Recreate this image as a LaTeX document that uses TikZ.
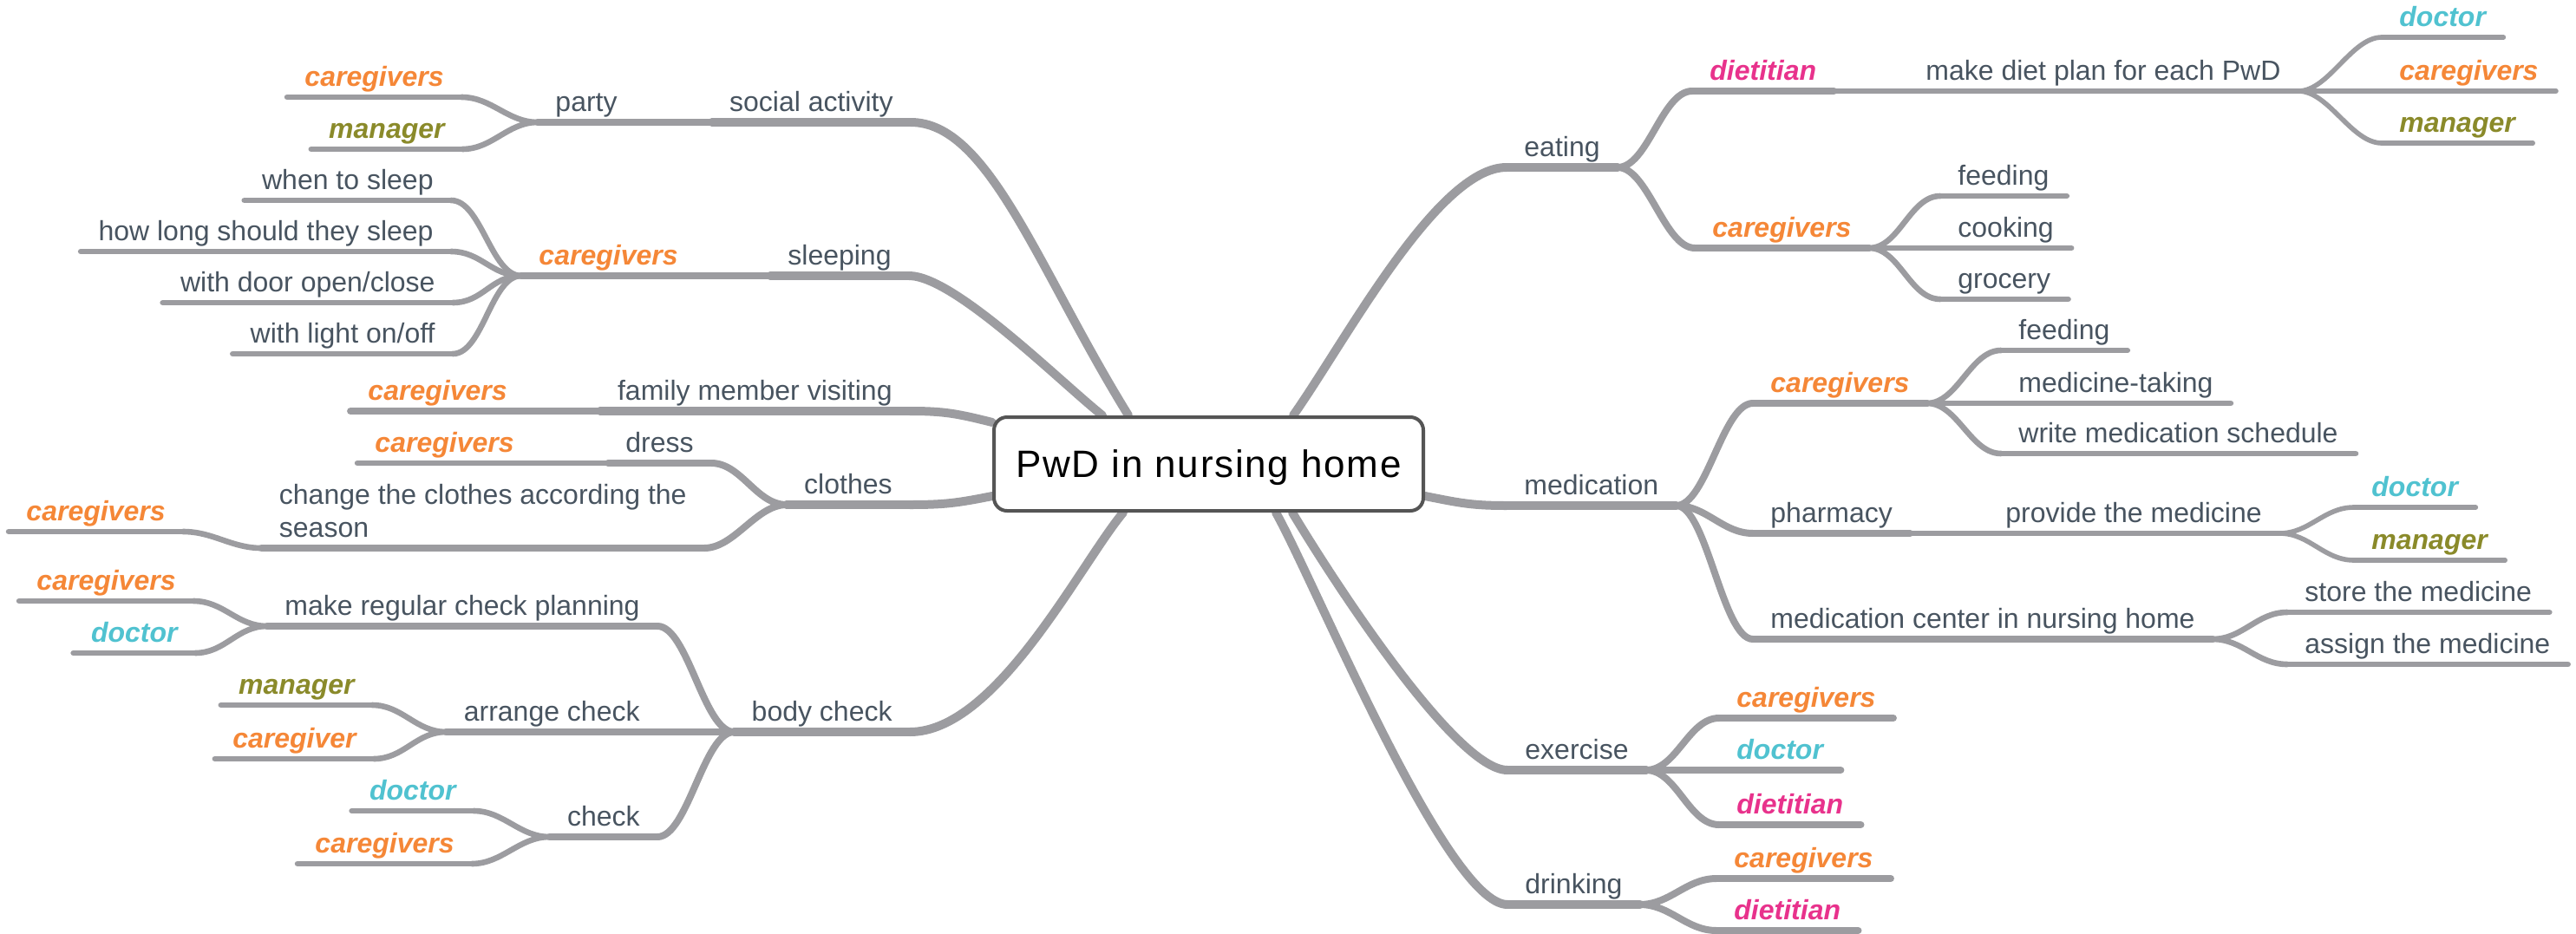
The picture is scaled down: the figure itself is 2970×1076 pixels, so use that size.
\documentclass[tikz,border=0pt]{standalone}
\usepackage{fontspec}
\setmainfont{Liberation Sans}
\newfontfamily\rootfont[LetterSpace=4]{Liberation Sans}
\usetikzlibrary{calc,backgrounds}
\definecolor{ln}{RGB}{156,156,160}
\definecolor{tx}{RGB}{72,84,96}
\definecolor{cg}{RGB}{245,135,55}
\definecolor{mg}{RGB}{138,138,42}
\definecolor{dc}{RGB}{80,194,208}
\definecolor{dt}{RGB}{232,50,140}
\definecolor{bd}{RGB}{85,85,85}
\begin{document}
\begin{tikzpicture}[x=0.5pt,y=-0.5pt,
  every node/.style={font=\fontsize{16pt}{19pt}\selectfont, text=tx, inner xsep=10pt, inner ysep=2pt, text height=12pt, text depth=4pt},
  R/.style={anchor=south west},
  L/.style={anchor=south east},
  role/.style={font=\fontsize{16pt}{19pt}\selectfont\bfseries\itshape},
  cgv/.style={role,text=cg}, mgr/.style={role,text=mg},
  doc/.style={role,text=dc}, die/.style={role,text=dt},
  w1/.style={draw=ln,line width=5pt,line cap=round},
  w2/.style={draw=ln,line width=4pt,line cap=round},
  w3/.style={draw=ln,line width=3.3pt,line cap=round},
  w4/.style={draw=ln,line width=2.8pt,line cap=round},
  sR/.style={to path={.. controls +(35,0) and +(-35,0) .. (\tikztotarget)}},
  sL/.style={to path={.. controls +(-35,0) and +(35,0) .. (\tikztotarget)}},
  rootbox/.style={draw=bd, line width=2pt, rounded corners=7.5pt, fill=white,
    minimum width=247.5pt, minimum height=54pt, inner sep=0pt, text=black,
    font=\rootfont\fontsize{22pt}{26pt}\selectfont, text height=15.4pt, text depth=0pt}
]
\useasboundingbox (0,0) rectangle (2970,1076);

% ---------- root ----------
\node[rootbox] (root) at (1393.5,535) {PwD in nursing home};
\coordinate (rSA) at ($(root.north west)+(157,0)$);
\coordinate (rSL) at ($(root.north west)+(127,0)$);
\coordinate (rFM) at ($(root.north west)+(0,8)$);
\coordinate (rCL) at ($(root.north west)+(0,93)$);
\coordinate (rBC) at ($(root.south west)+(151,0)$);
\coordinate (rDR) at ($(root.south west)+(327,0)$);
\coordinate (rEX) at ($(root.south west)+(346,0)$);
\coordinate (rEA) at ($(root.north west)+(347,0)$);
\coordinate (rME) at ($(root.north east)+(0,93)$);

% ---------- right side ----------
\node[R] (eat) at (1737,193) {eating};
\node[R,die] (eatdt) at (1951,105) {dietitian};
\node[R] (plan) at (2200,105) {make diet plan for each PwD};
\node[R,doc] (plandc) at (2746,43) {doctor};
\node[R,cgv] (plancg) at (2746,105) {caregivers};
\node[R,mgr] (planmg) at (2746,165) {manager};
\node[R,cgv] (eatcg) at (1954,286) {caregivers};
\node[R] (feed1) at (2237,226) {feeding};
\node[R] (cook) at (2237,286) {cooking};
\node[R] (groc) at (2237,345) {grocery};

\node[R] (med) at (1737,583) {medication};
\node[R,cgv] (medcg) at (2021,465) {caregivers};
\node[R] (feed2) at (2307,404) {feeding};
\node[R] (mtake) at (2307,465) {medicine-taking};
\node[R] (msched) at (2307,523) {write medication schedule};
\node[R] (pharm) at (2021,615) {pharmacy};
\node[R] (prov) at (2292,615) {provide the medicine};
\node[R,doc] (provdc) at (2714,585) {doctor};
\node[R,mgr] (provmg) at (2714,646) {manager};
\node[R] (mcent) at (2021,737) {medication center in nursing home};
\node[R] (store) at (2637,706) {store the medicine};
\node[R] (assign) at (2637,766) {assign the medicine};

\node[R] (exer) at (1738,888) {exercise};
\node[R,cgv] (excg) at (1982,828) {caregivers};
\node[R,doc] (exdc) at (1982,888) {doctor};
\node[R,die] (exdt) at (1982,951) {dietitian};
\node[R] (drink) at (1738,1043) {drinking};
\node[R,cgv] (drcg) at (1979,1013) {caregivers};
\node[R,die] (drdt) at (1979,1073) {dietitian};

% ---------- left side ----------
\node[L] (soc) at (1050,141) {social activity};
\node[L] (party) at (732,141) {party};
\node[L,cgv] (partycg) at (532,112) {caregivers};
\node[L,mgr] (partymg) at (533,172) {manager};
\node[L] (sleep) at (1048,318) {sleeping};
\node[L,cgv] (sleepcg) at (802,318) {caregivers};
\node[L] (when) at (520,231) {when to sleep};
\node[L] (howlong) at (520,290) {how long should they sleep};
\node[L] (door) at (522,349) {with door open/close};
\node[L] (light) at (522,408) {with light on/off};
\node[L] (fam) at (1049,474) {family member visiting};
\node[L,cgv] (famcg) at (605,474) {caregivers};
\node[L] (cloth) at (1049,582) {clothes};
\node[L] (dress) at (820,534) {dress};
\node[L,cgv] (dresscg) at (613,534) {caregivers};
\node[L] (season) at (812,632) {\begin{tabular}[b]{@{}l@{}}change the clothes according the\\season\end{tabular}};
\node[L,cgv] (seasoncg) at (211,613) {caregivers};
\node[L] (body) at (1049,844) {body check};
\node[L] (plan2) at (758,722) {make regular check planning};
\node[L,cgv] (plan2cg) at (223,693) {caregivers};
\node[L,doc] (plan2dc) at (225,753) {doctor};
\node[L] (arr) at (758,844) {arrange check};
\node[L,mgr] (arrmg) at (429,813) {manager};
\node[L,cgv] (arrcg) at (431,875) {caregiver};
\node[L] (chk) at (758,965) {check};
\node[L,doc] (chkdc) at (546,935) {doctor};
\node[L,cgv] (chkcg) at (544,996) {caregivers};

\begin{pgfonlayer}{background}
\fill[white] (0,0) rectangle (2970,1076);
% underlines
\foreach \n in {soc,sleep,fam,cloth,body,eat,med,exer,drink}
  \draw[w1] (\n.south west) -- (\n.south east);
\foreach \n in {party,sleepcg,famcg,dress,season,plan2,arr,chk,eatdt,eatcg,medcg,pharm,mcent,excg,exdc,exdt,drcg,drdt}
  \draw[w2] (\n.south west) -- (\n.south east);
\foreach \n in {partycg,partymg,when,howlong,door,light,dresscg,seasoncg,plan2cg,plan2dc,arrmg,arrcg,chkdc,chkcg,plan,feed1,cook,groc,feed2,mtake,msched,prov,store,assign}
  \draw[w3] (\n.south west) -- (\n.south east);
\foreach \n in {plandc,plancg,planmg,provdc,provmg}
  \draw[w4] (\n.south west) -- (\n.south east);

% root connectors
\draw[w1] (rSA) .. controls +(-105,-170) and +(90,0) .. (soc.south east);
\draw[w1] (rSL) .. controls +(-50,-40) and +(52,0) .. (sleep.south east);
\draw[w1] (rFM) .. controls +(-40,-10) and +(40,0) .. (fam.south east);
\draw[w1] (rCL) .. controls +(-40,8) and +(40,0) .. (cloth.south east);
\draw[w1] (rBC) .. controls +(-50,60) and +(100,0) .. (body.south east);
\draw[w1] (rEA) .. controls +(60,-85) and +(-80,0) .. (eat.south west);
\draw[w1] (rME) .. controls +(40,8) and +(-40,0) .. (med.south west);
\draw[w1] (rEX) .. controls +(45,75) and +(-60,0) .. (exer.south west);
\draw[w1] (rDR) .. controls +(45,80) and +(-70,0) .. (drink.south west);

% right connectors
\draw[w2] (eat.south east) to[sR] (eatdt.south west);
\draw[w2] (eat.south east) to[sR] (eatcg.south west);
\draw[w3] (eatdt.south east) -- (plan.south west);
\draw[w4] (plan.south east) to[sR] (plandc.south west);
\draw[w4] (plan.south east) to[sR] (plancg.south west);
\draw[w4] (plan.south east) to[sR] (planmg.south west);
\draw[w3] (eatcg.south east) to[sR] (feed1.south west);
\draw[w3] (eatcg.south east) to[sR] (cook.south west);
\draw[w3] (eatcg.south east) to[sR] (groc.south west);
\draw[w2] (med.south east) to[sR] (medcg.south west);
\draw[w2] (med.south east) to[sR] (pharm.south west);
\draw[w2] (med.south east) to[sR] (mcent.south west);
\draw[w3] (medcg.south east) to[sR] (feed2.south west);
\draw[w3] (medcg.south east) to[sR] (mtake.south west);
\draw[w3] (medcg.south east) to[sR] (msched.south west);
\draw[w3] (pharm.south east) -- (prov.south west);
\draw[w4] (prov.south east) to[sR] (provdc.south west);
\draw[w4] (prov.south east) to[sR] (provmg.south west);
\draw[w3] (mcent.south east) to[sR] (store.south west);
\draw[w3] (mcent.south east) to[sR] (assign.south west);
\draw[w2] (exer.south east) to[sR] (excg.south west);
\draw[w2] (exer.south east) to[sR] (exdc.south west);
\draw[w2] (exer.south east) to[sR] (exdt.south west);
\draw[w2] (drink.south east) to[sR] (drcg.south west);
\draw[w2] (drink.south east) to[sR] (drdt.south west);

% left connectors
\draw[w2] (soc.south west) -- (party.south east);
\draw[w3] (party.south west) to[sL] (partycg.south east);
\draw[w3] (party.south west) to[sL] (partymg.south east);
\draw[w2] (sleep.south west) -- (sleepcg.south east);
\draw[w3] (sleepcg.south west) to[sL] (when.south east);
\draw[w3] (sleepcg.south west) to[sL] (howlong.south east);
\draw[w3] (sleepcg.south west) to[sL] (door.south east);
\draw[w3] (sleepcg.south west) to[sL] (light.south east);
\draw[w2] (fam.south west) -- (famcg.south east);
\draw[w2] (cloth.south west) to[sL] (dress.south east);
\draw[w2] (cloth.south west) to[sL] (season.south east);
\draw[w3] (dress.south west) -- (dresscg.south east);
\draw[w3] (season.south west) to[sL] (seasoncg.south east);
\draw[w2] (body.south west) to[sL] (plan2.south east);
\draw[w2] (body.south west) to[sL] (arr.south east);
\draw[w2] (body.south west) to[sL] (chk.south east);
\draw[w3] (plan2.south west) to[sL] (plan2cg.south east);
\draw[w3] (plan2.south west) to[sL] (plan2dc.south east);
\draw[w3] (arr.south west) to[sL] (arrmg.south east);
\draw[w3] (arr.south west) to[sL] (arrcg.south east);
\draw[w3] (chk.south west) to[sL] (chkdc.south east);
\draw[w3] (chk.south west) to[sL] (chkcg.south east);
\end{pgfonlayer}
\end{tikzpicture}
\end{document}
